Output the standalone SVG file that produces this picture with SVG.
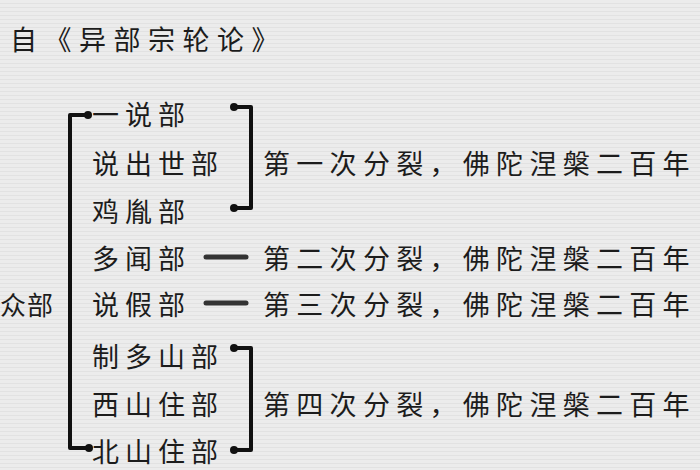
<svg xmlns="http://www.w3.org/2000/svg" width="700" height="470" viewBox="0 0 700 470">
<defs>
<pattern id="paper" width="6" height="4" patternUnits="userSpaceOnUse">
<rect width="6" height="4" fill="#ececec"/>
<rect y="3" width="6" height="1" fill="#e2e2e2"/>
</pattern>
<style>
text{font-family:"Noto Sans CJK SC","Noto Sans CJK TC",sans-serif;fill:#1c1c1c;dominant-baseline:central}
.item{font-size:27px;letter-spacing:6px}
.desc{font-size:27px;letter-spacing:6.3px}
.br{fill:none;stroke:#111;stroke-width:4;stroke-linejoin:round}
.dot{fill:#111}
.dash{stroke:#333;stroke-width:5;stroke-linecap:round}
</style>
</defs>
<rect width="700" height="470" fill="url(#paper)"/>
<g id="title"><text x="10" y="38" style="font-size:27px;letter-spacing:7.5px">自《异部宗轮论》</text></g>
<g id="root"><text x="0" y="303" style="font-size:26px;letter-spacing:1px">众部</text></g>
<g id="n1"><text class="item" x="92" y="113">一说部</text></g>
<g id="n2"><text class="item" x="92" y="162">说出世部</text></g>
<g id="n3"><text class="item" x="92" y="210">鸡胤部</text></g>
<g id="n4"><text class="item" x="92" y="257">多闻部</text></g>
<g id="n5"><text class="item" x="92" y="303">说假部</text></g>
<g id="n6"><text class="item" x="92" y="355">制多山部</text></g>
<g id="n7"><text class="item" x="92" y="403">西山住部</text></g>
<g id="n8"><text class="item" x="92" y="450">北山住部</text></g>
<g id="d1"><text class="desc" x="263" y="162">第一次分裂，佛陀涅槃二百年</text></g>
<g id="d2"><text class="desc" x="263" y="257">第二次分裂，佛陀涅槃二百年</text></g>
<g id="d3"><text class="desc" x="263" y="303">第三次分裂，佛陀涅槃二百年</text></g>
<g id="d4"><text class="desc" x="263" y="403">第四次分裂，佛陀涅槃二百年</text></g>
<g id="connectors">
<path class="br" d="M88 115 H70 V448 H89"/>
<circle class="dot" cx="88" cy="115" r="4"/>
<circle class="dot" cx="89" cy="448" r="4"/>
<path class="br" d="M234 107 H251 V208 H234"/>
<circle class="dot" cx="234" cy="107" r="4"/>
<circle class="dot" cx="234" cy="208" r="4"/>
<path class="br" d="M234 348 H251 V450 H234"/>
<circle class="dot" cx="234" cy="348" r="4"/>
<circle class="dot" cx="234" cy="450" r="4"/>
<line class="dash" x1="206" y1="257" x2="246" y2="257"/>
<line class="dash" x1="206" y1="303" x2="246" y2="303"/>
</g>
</svg>
